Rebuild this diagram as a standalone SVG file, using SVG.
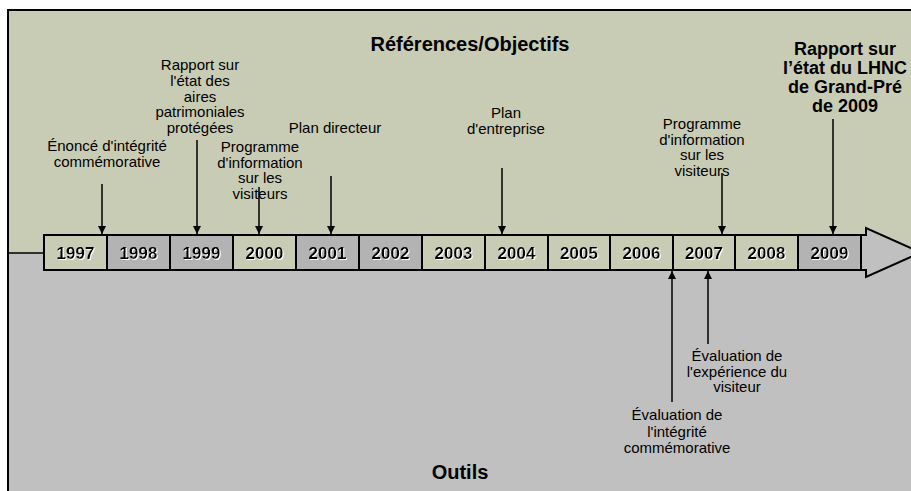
<svg xmlns="http://www.w3.org/2000/svg" width="911" height="491" viewBox="0 0 911 491">
  <defs>
    <marker id="ah" markerWidth="8" markerHeight="8" refX="8" refY="4" orient="auto" markerUnits="userSpaceOnUse">
      <path d="M0,0 L8,4 L0,8 z" fill="#000"/>
    </marker>
    <filter id="ws" x="-10%" y="-10%" width="130%" height="140%">
      <feDropShadow dx="1" dy="1" stdDeviation="0" flood-color="#ffffff" flood-opacity="1"/>
    </filter>
  </defs>
  <style>
    text { font-family: "Liberation Sans", Arial, sans-serif; fill: #000; }
    .lbl { font-size: 15px; text-anchor: middle; }
    .blbl { font-size: 18px; font-weight: bold; text-anchor: middle; }
    .ttl { font-size: 20px; font-weight: bold; text-anchor: middle; }
    .yr { font-size: 17px; font-weight: bold; text-anchor: middle; filter: url(#ws); }
    .bg { fill: #C9CCB4; stroke: #000; stroke-width: 2; }
    .bx { fill: #B3B3B3; stroke: #000; stroke-width: 2; }
    .conn { stroke: #000; stroke-width: 1.5; fill: none; marker-end: url(#ah); }
  </style>

  <!-- background -->
  <rect x="0" y="0" width="911" height="491" fill="#ffffff"/>
  <rect x="8" y="10" width="910" height="243" fill="#C9CCB4"/>
  <rect x="8" y="253" width="910" height="245" fill="#C0C0C0"/>
  <path d="M8,500 V10 H920" fill="none" stroke="#000" stroke-width="2"/>
  <line x1="8" y1="253" x2="44" y2="253" stroke="#000" stroke-width="1.5"/>

  <!-- timeline arrow -->
  <g id="timeline-arrow">
    <polygon points="44,235 866,235 866,228 921,252.5 866,277 866,270 44,270" fill="#C0C0C0" stroke="#000" stroke-width="2" stroke-linejoin="miter"/>
  </g>

  <!-- year boxes -->
  <g id="y1997"><rect class="bg" x="44" y="235" width="63" height="35"/><text class="yr" x="75.5" y="259">1997</text></g>
  <g id="y1998"><rect class="bx" x="107" y="235" width="63" height="35"/><text class="yr" x="138.5" y="259">1998</text></g>
  <g id="y1999"><rect class="bx" x="170" y="235" width="63" height="35"/><text class="yr" x="201.5" y="259">1999</text></g>
  <g id="y2000"><rect class="bg" x="233" y="235" width="63" height="35"/><text class="yr" x="264.5" y="259">2000</text></g>
  <g id="y2001"><rect class="bx" x="296" y="235" width="63" height="35"/><text class="yr" x="327.5" y="259">2001</text></g>
  <g id="y2002"><rect class="bx" x="359" y="235" width="63" height="35"/><text class="yr" x="390.5" y="259">2002</text></g>
  <g id="y2003"><rect class="bg" x="422" y="235" width="63" height="35"/><text class="yr" x="453.5" y="259">2003</text></g>
  <g id="y2004"><rect class="bg" x="485" y="235" width="63" height="35"/><text class="yr" x="516.5" y="259">2004</text></g>
  <g id="y2005"><rect class="bg" x="548" y="235" width="62" height="35"/><text class="yr" x="579" y="259">2005</text></g>
  <g id="y2006"><rect class="bg" x="610" y="235" width="63" height="35"/><text class="yr" x="641.5" y="259">2006</text></g>
  <g id="y2007"><rect class="bg" x="673" y="235" width="62" height="35"/><text class="yr" x="704" y="259">2007</text></g>
  <g id="y2008"><rect class="bg" x="735" y="235" width="63" height="35"/><text class="yr" x="766.5" y="259">2008</text></g>
  <g id="y2009"><rect class="bx" x="798" y="235" width="63" height="35"/><text class="yr" x="829.5" y="259">2009</text></g>

  <!-- titles -->
  <g id="title-top"><text class="ttl" x="470" y="51">Références/Objectifs</text></g>
  <g id="title-bottom"><text class="ttl" x="460" y="479">Outils</text></g>

  <!-- labels -->
  <g id="lbl-enonce">
    <text class="lbl" x="107" y="151">Énoncé d'intégrité<tspan x="107" y="167">commémorative</tspan></text>
  </g>
  <g id="lbl-rapport-aires">
    <text class="lbl" x="200" y="70">Rapport sur<tspan x="200" y="86">l'état des</tspan><tspan x="200" y="101.5">aires</tspan><tspan x="200" y="117">patrimoniales</tspan><tspan x="200" y="132.5">protégées</tspan></text>
  </g>
  <g id="lbl-prog-2000">
    <text class="lbl" x="260" y="152">Programme<tspan x="260" y="167.5">d'information</tspan><tspan x="260" y="183">sur les</tspan><tspan x="260" y="198.5">visiteurs</tspan></text>
  </g>
  <g id="lbl-plan-directeur">
    <text class="lbl" x="335" y="133">Plan directeur</text>
  </g>
  <g id="lbl-plan-entreprise">
    <text class="lbl" x="506" y="118">Plan<tspan x="506" y="134">d'entreprise</tspan></text>
  </g>
  <g id="lbl-prog-2007">
    <text class="lbl" x="702" y="129">Programme<tspan x="702" y="144.5">d'information</tspan><tspan x="702" y="160">sur les</tspan><tspan x="702" y="176">visiteurs</tspan></text>
  </g>
  <g id="lbl-rapport-lhnc">
    <text class="blbl" x="845" y="55">Rapport sur<tspan x="845" y="74">l’état du LHNC</tspan><tspan x="845" y="93">de Grand-Pré</tspan><tspan x="845" y="112">de 2009</tspan></text>
  </g>
  <g id="lbl-eval-integrite">
    <text class="lbl" x="677" y="420">Évaluation de<tspan x="677" y="436.5">l'intégrité</tspan><tspan x="677" y="453">commémorative</tspan></text>
  </g>
  <g id="lbl-eval-experience">
    <text class="lbl" x="737" y="361">Évaluation de<tspan x="737" y="376.5">l'expérience du</tspan><tspan x="737" y="392">visiteur</tspan></text>
  </g>

  <!-- connectors -->
  <g id="connectors">
    <line class="conn" x1="102" y1="184" x2="102" y2="234"/>
    <line class="conn" x1="197" y1="140" x2="197" y2="234"/>
    <line class="conn" x1="259" y1="187" x2="259" y2="234"/>
    <line class="conn" x1="331" y1="176" x2="331" y2="234"/>
    <line class="conn" x1="502" y1="168" x2="502" y2="234"/>
    <line class="conn" x1="722" y1="173" x2="722" y2="234"/>
    <line class="conn" x1="833" y1="119" x2="833" y2="234"/>
    <line class="conn" x1="672" y1="402" x2="672" y2="271"/>
    <line class="conn" x1="708" y1="344" x2="708" y2="271"/>
  </g>
</svg>
